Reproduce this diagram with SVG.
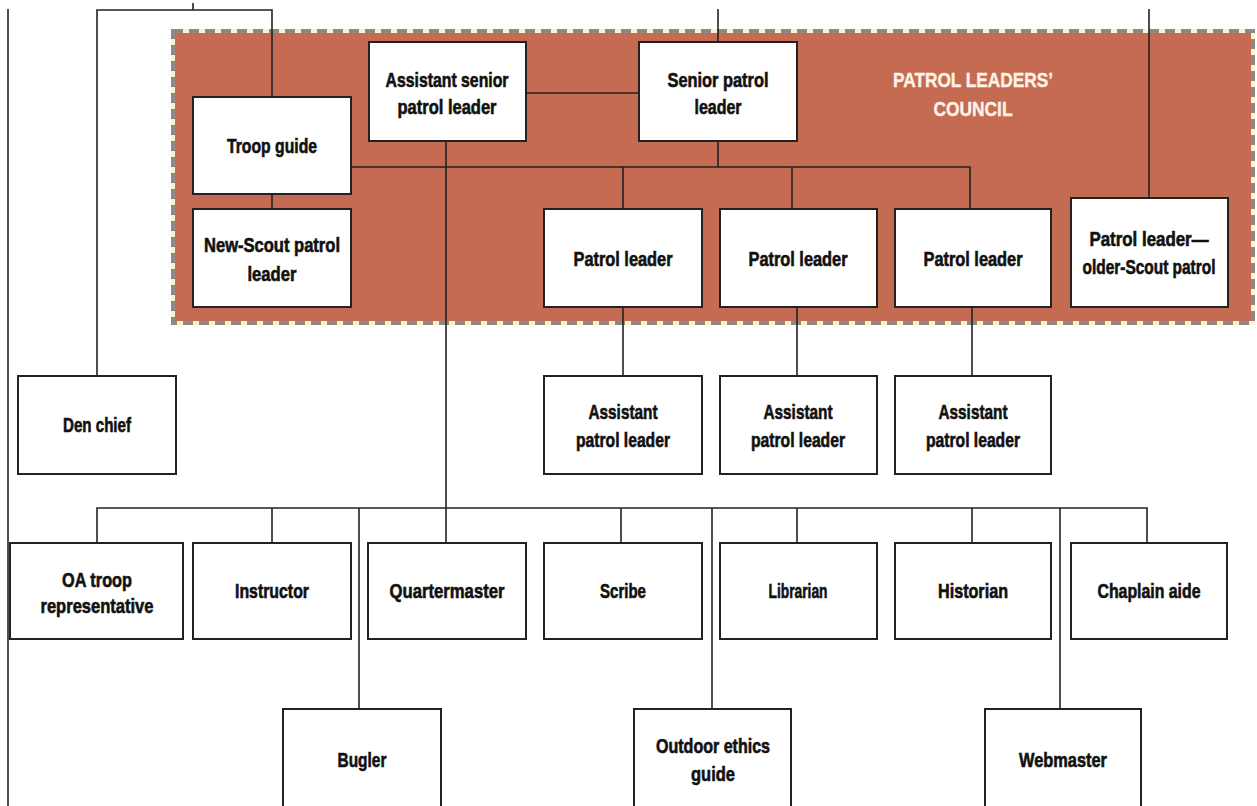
<svg xmlns="http://www.w3.org/2000/svg" width="1257" height="806" viewBox="0 0 1257 806">
<style>
.box{fill:#fff;stroke:#222;stroke-width:2}
.t{font-family:"Liberation Sans",Arial,sans-serif;font-weight:bold;font-size:20px;fill:#111;stroke:#111;stroke-width:0.6;text-anchor:middle}
.ct{font-family:"Liberation Sans",Arial,sans-serif;font-weight:bold;font-size:20px;fill:#fdf3e6;stroke:#fdf3e6;stroke-width:0.4;text-anchor:middle}
.ln{stroke:#222;stroke-width:1.6;fill:none}
</style>
<rect width="1257" height="806" fill="#fff"/>
<g id="council">
<rect x="173" y="31" width="1080" height="292" fill="#c56b51"/>
<rect x="173" y="31" width="1080" height="292" fill="none" stroke="#fff3c6" stroke-width="4"/>
<rect x="173" y="31" width="1080" height="292" fill="none" stroke="#8a8a8a" stroke-width="4" stroke-dasharray="10,6"/>
<text class="ct" x="973" y="87" textLength="160" lengthAdjust="spacingAndGlyphs">PATROL LEADERS’</text>
<text class="ct" x="973" y="116" textLength="79" lengthAdjust="spacingAndGlyphs">COUNCIL</text>
</g>
<g id="connectors">
<path class="ln" d="M8,9 V806" stroke-width="2.5"/>
<path class="ln" d="M193,3 V10"/>
<path class="ln" d="M97,376 V10 H272 V97"/>
<path class="ln" d="M718,9 V42"/>
<path class="ln" d="M1149,9 V198"/>
<path class="ln" d="M526,93 H639"/>
<path class="ln" d="M272,194 V209"/>
<path class="ln" d="M351,167 H970 V209"/>
<path class="ln" d="M718,141 V167"/>
<path class="ln" d="M623,167 V209"/>
<path class="ln" d="M792,167 V209"/>
<path class="ln" d="M446,141 V543"/>
<path class="ln" d="M623,307 V376"/>
<path class="ln" d="M797,307 V376"/>
<path class="ln" d="M972,307 V376"/>
<path class="ln" d="M97,543 V508 H1147 V543"/>
<path class="ln" d="M272,508 V543"/>
<path class="ln" d="M359,508 V709"/>
<path class="ln" d="M621,508 V543"/>
<path class="ln" d="M712,508 V709"/>
<path class="ln" d="M797,508 V543"/>
<path class="ln" d="M972,508 V543"/>
<path class="ln" d="M1060,508 V709"/>
</g>
<g id="troop-guide"><rect class="box" x="193" y="97" width="158" height="97"/><text class="t" x="272" y="153" textLength="90" lengthAdjust="spacingAndGlyphs">Troop guide</text></g>
<g id="new-scout-patrol-leader"><rect class="box" x="193" y="209" width="158" height="98"/><text class="t" x="272" y="252" textLength="136" lengthAdjust="spacingAndGlyphs">New-Scout patrol</text><text class="t" x="272" y="281" textLength="49" lengthAdjust="spacingAndGlyphs">leader</text></g>
<g id="assistant-senior-patrol-leader"><rect class="box" x="369" y="42" width="157" height="99"/><text class="t" x="447" y="87" textLength="123" lengthAdjust="spacingAndGlyphs">Assistant senior</text><text class="t" x="447" y="114" textLength="99" lengthAdjust="spacingAndGlyphs">patrol leader</text></g>
<g id="senior-patrol-leader"><rect class="box" x="639" y="42" width="158" height="99"/><text class="t" x="718" y="87" textLength="101" lengthAdjust="spacingAndGlyphs">Senior patrol</text><text class="t" x="718" y="114" textLength="47" lengthAdjust="spacingAndGlyphs">leader</text></g>
<g id="patrol-leader-1"><rect class="box" x="544" y="209" width="158" height="98"/><text class="t" x="623" y="266" textLength="99" lengthAdjust="spacingAndGlyphs">Patrol leader</text></g>
<g id="patrol-leader-2"><rect class="box" x="720" y="209" width="157" height="98"/><text class="t" x="798" y="266" textLength="99" lengthAdjust="spacingAndGlyphs">Patrol leader</text></g>
<g id="patrol-leader-3"><rect class="box" x="895" y="209" width="156" height="98"/><text class="t" x="973" y="266" textLength="99" lengthAdjust="spacingAndGlyphs">Patrol leader</text></g>
<g id="patrol-leader-older-scout"><rect class="box" x="1071" y="198" width="157" height="109"/><text class="t" x="1149" y="246" textLength="119" lengthAdjust="spacingAndGlyphs">Patrol leader—</text><text class="t" x="1149" y="274" textLength="133" lengthAdjust="spacingAndGlyphs">older-Scout patrol</text></g>
<g id="den-chief"><rect class="box" x="18" y="376" width="158" height="98"/><text class="t" x="97" y="432" textLength="68" lengthAdjust="spacingAndGlyphs">Den chief</text></g>
<g id="assistant-patrol-leader-1"><rect class="box" x="544" y="376" width="158" height="98"/><text class="t" x="623" y="419" textLength="69" lengthAdjust="spacingAndGlyphs">Assistant</text><text class="t" x="623" y="447" textLength="94" lengthAdjust="spacingAndGlyphs">patrol leader</text></g>
<g id="assistant-patrol-leader-2"><rect class="box" x="720" y="376" width="157" height="98"/><text class="t" x="798" y="419" textLength="69" lengthAdjust="spacingAndGlyphs">Assistant</text><text class="t" x="798" y="447" textLength="94" lengthAdjust="spacingAndGlyphs">patrol leader</text></g>
<g id="assistant-patrol-leader-3"><rect class="box" x="895" y="376" width="156" height="98"/><text class="t" x="973" y="419" textLength="69" lengthAdjust="spacingAndGlyphs">Assistant</text><text class="t" x="973" y="447" textLength="94" lengthAdjust="spacingAndGlyphs">patrol leader</text></g>
<g id="oa-troop-representative"><rect class="box" x="10" y="543" width="173" height="96"/><text class="t" x="97" y="587" textLength="70" lengthAdjust="spacingAndGlyphs">OA troop</text><text class="t" x="97" y="613" textLength="113" lengthAdjust="spacingAndGlyphs">representative</text></g>
<g id="instructor"><rect class="box" x="193" y="543" width="158" height="96"/><text class="t" x="272" y="598" textLength="74" lengthAdjust="spacingAndGlyphs">Instructor</text></g>
<g id="quartermaster"><rect class="box" x="368" y="543" width="158" height="96"/><text class="t" x="447" y="598" textLength="115" lengthAdjust="spacingAndGlyphs">Quartermaster</text></g>
<g id="scribe"><rect class="box" x="544" y="543" width="158" height="96"/><text class="t" x="623" y="598" textLength="46" lengthAdjust="spacingAndGlyphs">Scribe</text></g>
<g id="librarian"><rect class="box" x="720" y="543" width="157" height="96"/><text class="t" x="798" y="598" textLength="59" lengthAdjust="spacingAndGlyphs">Librarian</text></g>
<g id="historian"><rect class="box" x="895" y="543" width="156" height="96"/><text class="t" x="973" y="598" textLength="70" lengthAdjust="spacingAndGlyphs">Historian</text></g>
<g id="chaplain-aide"><rect class="box" x="1071" y="543" width="156" height="96"/><text class="t" x="1149" y="598" textLength="103" lengthAdjust="spacingAndGlyphs">Chaplain aide</text></g>
<g id="bugler"><rect class="box" x="283" y="709" width="158" height="110"/><text class="t" x="362" y="767" textLength="49" lengthAdjust="spacingAndGlyphs">Bugler</text></g>
<g id="outdoor-ethics-guide"><rect class="box" x="634" y="709" width="157" height="110"/><text class="t" x="713" y="753" textLength="114" lengthAdjust="spacingAndGlyphs">Outdoor ethics</text><text class="t" x="713" y="781" textLength="44" lengthAdjust="spacingAndGlyphs">guide</text></g>
<g id="webmaster"><rect class="box" x="985" y="709" width="156" height="110"/><text class="t" x="1063" y="767" textLength="88" lengthAdjust="spacingAndGlyphs">Webmaster</text></g>
</svg>
